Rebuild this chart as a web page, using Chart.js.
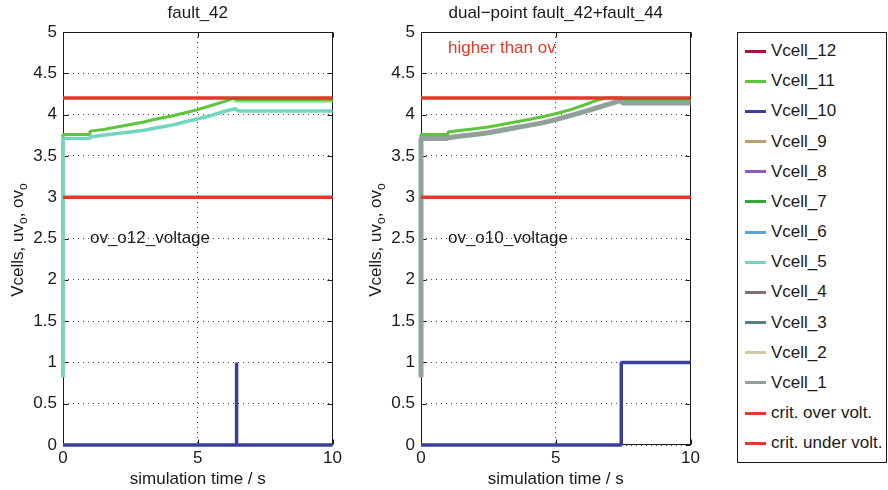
<!DOCTYPE html>
<html>
<head>
<meta charset="utf-8">
<script src="https://cdn.jsdelivr.net/npm/chart.js@4.4.1/dist/chart.umd.min.js"></script>
<style>
  html, body { margin: 0; padding: 0; background: #fff; }
  #wrap { position: relative; width: 888px; height: 490px; overflow: hidden; }
  #wrap canvas { position: absolute; top: 0; }
  #left { left: 0; }
  #right { left: 358px; }
  #legend {
    position: absolute; left: 737px; top: 32px; width: 150px; height: 431px;
    box-sizing: border-box; border: 1px solid #1a1a1a; background: #fff;
    font: 17px "Liberation Sans", Arial, sans-serif; color: #1a1a1a;
  }
  .lg-item { position: absolute; left: 0; height: 20px; display: flex; align-items: center; white-space: nowrap; }
  .lg-swatch { width: 21px; height: 3px; margin-left: 7px; margin-right: 5px; }
</style>
</head>
<body>
<div id="wrap">
  <canvas id="left" width="345" height="490"></canvas>
  <canvas id="right" width="345" height="490"></canvas>
  <div id="legend"></div>
</div>
<script>
(function () {
  const FONT = '"Liberation Sans", Arial, sans-serif';
  const INK = "#1a1a1a";

  const X_TICKS = [0, 5, 10];
  const Y_TICKS = [0, 0.5, 1, 1.5, 2, 2.5, 3, 3.5, 4, 4.5, 5];

  const LEGEND_LABELS = ["Vcell_12", "Vcell_11", "Vcell_10", "Vcell_9", "Vcell_8", "Vcell_7", "Vcell_6",
    "Vcell_5", "Vcell_4", "Vcell_3", "Vcell_2", "Vcell_1", "crit. over volt.", "crit. under volt."];
  const LEGEND_COLORS = ["#a0143c", "#5ec43c", "#3a3f9c", "#b9a172", "#8d5ac2", "#31a833", "#62a2d2",
    "#72d5bd", "#807274", "#528283", "#d1c9a1", "#91a199", "#e2392b", "#e2392b"];

  // thresholds
  const CRIT_T = [0, 10];
  const CRIT_OV = [4.2, 4.2];
  const CRIT_UV = [3.0, 3.0];

  // fault_42
  const L_T_HIGH = [0, 0, 0.97, 1.0, 1.5, 2, 2.5, 3, 3.5, 4, 4.5, 5, 5.5, 6, 6.35, 6.42, 10];
  const L_VCELL_11 = [0.82, 3.76, 3.76, 3.80, 3.82, 3.85, 3.88, 3.91, 3.95, 3.98, 4.02, 4.06, 4.11, 4.16, 4.20, 4.18, 4.18];
  const L_T_EDGE = [6.35, 6.42, 10];
  const L_VCELL_11_EDGE = [4.17, 4.155, 4.155];
  const L_T_LOW = [0, 0, 0.97, 1.0, 1.5, 2, 2.5, 3, 3.5, 4, 4.5, 5, 5.5, 6, 6.4, 6.5, 10];
  const L_VCELL_5 = [0.82, 3.71, 3.71, 3.73, 3.75, 3.77, 3.79, 3.81, 3.84, 3.87, 3.91, 3.95, 3.99, 4.04, 4.07, 4.045, 4.045];
  const L_T_FLAG = [0, 6.42, 6.42, 6.45, 6.45, 10];
  const L_FLAG = [0, 0, 1, 1, 0, 0];

  // dual-point fault_42+fault_44
  const R_T_HIGH = [0, 0, 0.97, 1.0, 1.5, 2, 2.5, 3, 3.5, 4, 4.5, 5, 5.5, 6, 6.5, 6.85, 7.45, 7.5, 10];
  const R_VCELL_11 = [0.82, 3.76, 3.76, 3.79, 3.81, 3.83, 3.85, 3.88, 3.91, 3.94, 3.975, 4.01, 4.055, 4.11, 4.17, 4.2, 4.2, 4.18, 4.18];
  const R_T_LOW = [0, 0, 0.97, 1.0, 1.5, 2, 2.5, 3, 3.5, 4, 4.5, 5, 5.5, 6, 6.5, 7, 7.4, 7.5, 10];
  const R_VCELL_1 = [0.82, 3.71, 3.71, 3.72, 3.74, 3.76, 3.78, 3.81, 3.84, 3.87, 3.90, 3.94, 3.985, 4.03, 4.08, 4.13, 4.17, 4.14, 4.14];
  const R_T_FLAG = [0, 7.43, 7.43, 10];
  const R_FLAG = [0, 0, 1, 1];

  function pts(t, v) {
    return t.map((x, i) => ({ x: x, y: v[i] }));
  }

  function line(label, t, v, color, width, order) {
    return {
      label: label,
      data: pts(t, v),
      borderColor: color,
      backgroundColor: color,
      borderWidth: width,
      pointRadius: 0,
      tension: 0,
      fill: false,
      order: order,
      borderJoinStyle: "bevel",
      clip: 4,
    };
  }

  function drawRotatedLabel(ctx, cx, cy) {
    const parts = [
      { s: "Vcells, uv", sub: false },
      { s: "o", sub: true },
      { s: ", ov", sub: false },
      { s: "o", sub: true },
    ];
    const big = "17px " + FONT, small = "12px " + FONT;
    let total = 0;
    parts.forEach((p) => {
      ctx.font = p.sub ? small : big;
      p.w = ctx.measureText(p.s).width;
      total += p.w;
    });
    ctx.save();
    ctx.translate(cx, cy);
    ctx.rotate(-Math.PI / 2);
    ctx.fillStyle = INK;
    ctx.textBaseline = "alphabetic";
    ctx.textAlign = "left";
    let x = -total / 2;
    parts.forEach((p) => {
      ctx.font = p.sub ? small : big;
      ctx.fillText(p.s, x, p.sub ? 4 : 0);
      x += p.w;
    });
    ctx.restore();
  }

  const framePlugin = {
    id: "matFrame",
    beforeDatasetsDraw(chart) {
      const { ctx, chartArea: a, scales } = chart;
      const L = Math.round(a.left) + 0.5, R = Math.round(a.right) - 0.5;
      const T = Math.round(a.top) + 0.5, B = Math.round(a.bottom) - 0.5;
      ctx.save();
      ctx.strokeStyle = INK;
      ctx.lineWidth = 1;
      ctx.strokeRect(L, T, R - L, B - T);
      ctx.beginPath();
      Y_TICKS.forEach((v) => {
        const y = Math.round(scales.y.getPixelForValue(v)) + 0.5;
        ctx.moveTo(L, y); ctx.lineTo(L + 5, y);
        ctx.moveTo(R, y); ctx.lineTo(R - 5, y);
      });
      X_TICKS.forEach((v) => {
        const x = Math.round(scales.x.getPixelForValue(v)) + 0.5;
        ctx.moveTo(x, B); ctx.lineTo(x, B - 5);
        ctx.moveTo(x, T); ctx.lineTo(x, T + 5);
      });
      ctx.stroke();
      ctx.restore();
    },
    afterDraw(chart, args, opts) {
      const { ctx, chartArea: a, scales } = chart;
      const cx = (a.left + a.right) / 2;
      ctx.save();
      ctx.fillStyle = INK;
      ctx.font = "17px " + FONT;
      ctx.textAlign = "center";
      ctx.textBaseline = "alphabetic";
      ctx.fillText(opts.title, cx, 18);
      ctx.fillText("simulation time / s", cx, 484);
      (opts.notes || []).forEach((n) => {
        ctx.fillStyle = n.color;
        ctx.textAlign = "left";
        ctx.fillText(n.text, scales.x.getPixelForValue(n.x), scales.y.getPixelForValue(n.y));
      });
      ctx.restore();
      drawRotatedLabel(ctx, 23, (a.top + a.bottom) / 2 + 1.5);
    },
  };

  function buildChart(canvasId, datasets, title, notes) {
    const canvas = document.getElementById(canvasId);
    return new Chart(canvas, {
      type: "line",
      data: { datasets: datasets },
      plugins: [framePlugin],
      options: {
        responsive: false,
        animation: false,
        events: [],
        layout: { padding: { top: 32, right: 11, left: 0, bottom: 0 } },
        plugins: {
          legend: { display: false },
          tooltip: { enabled: false },
          matFrame: { title: title, notes: notes },
        },
        scales: {
          x: {
            type: "linear",
            min: 0,
            max: 10,
            afterBuildTicks: (s) => { s.ticks = X_TICKS.map((v) => ({ value: v })); },
            afterFit: (s) => { s.height = 45; },
            ticks: {
              color: INK,
              font: { family: FONT, size: 17 },
              padding: 3,
              maxRotation: 0,
              autoSkip: false,
              callback: (v) => String(v),
            },
            grid: { color: "#444", lineWidth: 1, drawTicks: false },
            border: { display: false, dash: [1, 4] },
          },
          y: {
            type: "linear",
            min: 0,
            max: 5,
            afterBuildTicks: (s) => { s.ticks = Y_TICKS.map((v) => ({ value: v })); },
            afterFit: (s) => { s.width = 63; },
            ticks: {
              color: INK,
              font: { family: FONT, size: 17 },
              padding: 6,
              autoSkip: false,
              callback: (v) => String(v),
            },
            grid: { color: "#444", lineWidth: 1, drawTicks: false },
            border: { display: false, dash: [1, 4] },
          },
        },
      },
    });
  }

  const C = LEGEND_COLORS;

  buildChart("left", [
    line("Vcell_10", L_T_FLAG, L_FLAG, C[2], 3.5, 0),
    line("crit. over volt.", CRIT_T, CRIT_OV, C[12], 3.5, 1),
    line("crit. under volt.", CRIT_T, CRIT_UV, C[13], 3.5, 1),
    line("Vcell_5", L_T_LOW, L_VCELL_5, C[7], 3.5, 2),
    line("Vcell_11", L_T_HIGH, L_VCELL_11, C[1], 3, 3),
    line("Vcell_11 edge", L_T_EDGE, L_VCELL_11_EDGE, "#a6e396", 2, 4),
  ], "fault_42", [
    { text: "ov_o12_voltage", x: 1.0, y: 2.45, color: INK },
  ]);

  buildChart("right", [
    line("Vcell_10", R_T_FLAG, R_FLAG, C[2], 3.5, 0),
    line("crit. over volt.", CRIT_T, CRIT_OV, C[12], 3.5, 1),
    line("crit. under volt.", CRIT_T, CRIT_UV, C[13], 3.5, 1),
    line("Vcell_1", R_T_LOW, R_VCELL_1, C[11], 5, 2),
    line("Vcell_11", R_T_HIGH, R_VCELL_11, C[1], 3, 3),
  ], "dual\u2212point fault_42+fault_44", [
    { text: "higher than ov", x: 1.0, y: 4.75, color: "#e2392b" },
    { text: "ov_o10_voltage", x: 1.0, y: 2.45, color: INK },
  ]);

  const legend = document.getElementById("legend");
  LEGEND_LABELS.forEach((label, i) => {
    const item = document.createElement("div");
    item.className = "lg-item";
    item.style.top = (8 + 30.18 * i) + "px";
    const sw = document.createElement("span");
    sw.className = "lg-swatch";
    sw.style.background = LEGEND_COLORS[i];
    const tx = document.createElement("span");
    tx.textContent = label;
    item.appendChild(sw);
    item.appendChild(tx);
    legend.appendChild(item);
  });
})();
</script>
</body>
</html>
